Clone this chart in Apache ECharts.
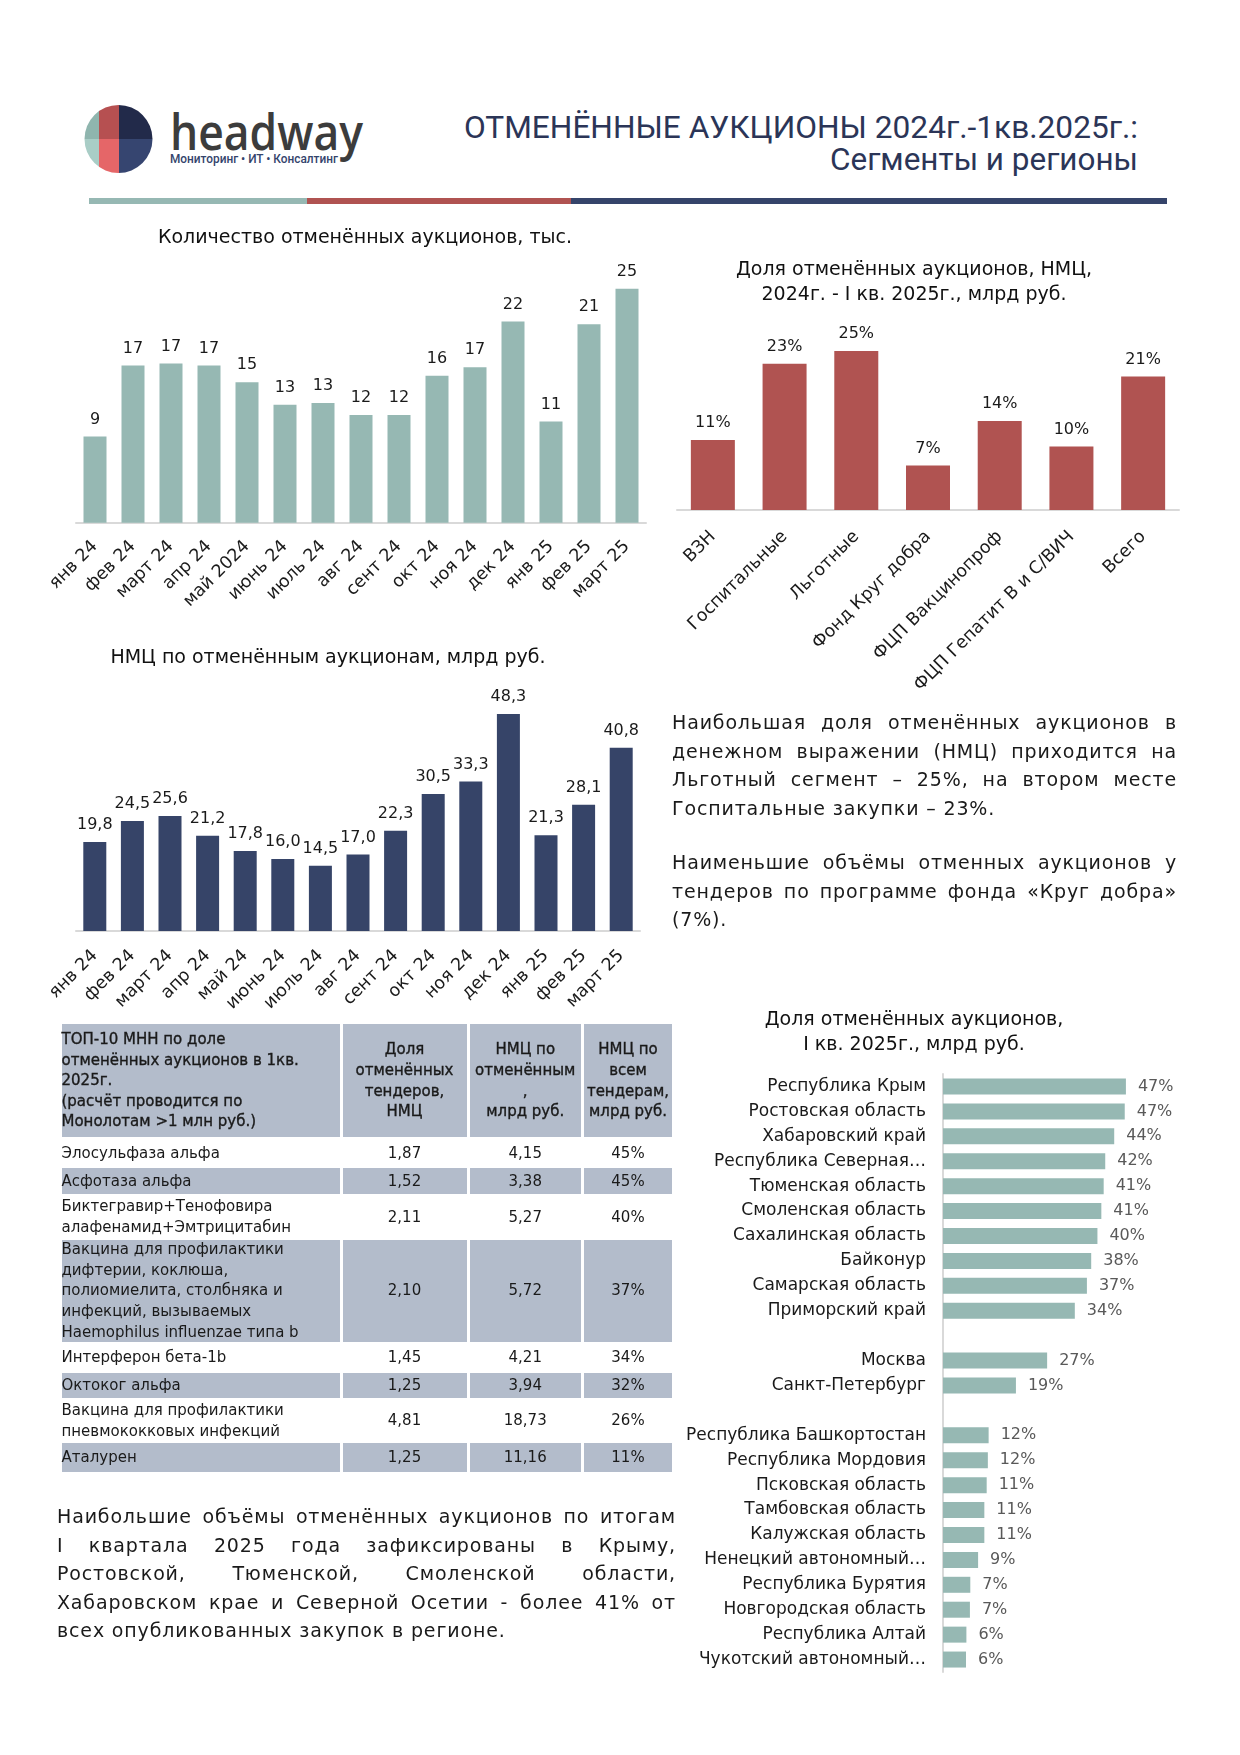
<!DOCTYPE html>
<html><head><meta charset="utf-8">
<script src="https://cdn.jsdelivr.net/npm/echarts@6/dist/echarts.min.js"></script>
<style>
html,body{margin:0;padding:0;background:#fff;}
#page{position:relative;width:1240px;height:1755px;overflow:hidden;background:#fff;font-family:"DejaVu Sans",sans-serif;color:#1a1a1a;}
#chart{position:absolute;left:0;top:0;width:1240px;height:1755px;}
.para{position:absolute;font-size:19px;line-height:28.5px;color:#1a1a1a;letter-spacing:0.85px;}
.para .ln{height:28.5px;white-space:nowrap;}
.cell{position:absolute;box-sizing:border-box;display:flex;align-items:center;font-size:15px;line-height:20.6px;white-space:nowrap;color:#1a1a1a;}
.cell.num{justify-content:center;text-align:center;}
.cell.hd{-webkit-text-stroke:0.35px #1a1a1a;}
.cell.gray{background:#b3bccb;}
</style></head>
<body>
<div id="page">
<svg id="hdr" width="1240" height="230" style="position:absolute;left:0;top:0">
<defs><clipPath id="lc"><circle cx="118.5" cy="139" r="34"/></clipPath></defs>
<g clip-path="url(#lc)">
 <rect x="84" y="104" width="15" height="35" fill="#8fb5ae"/>
 <rect x="84" y="139" width="15" height="35" fill="#a9cdc6"/>
 <rect x="99" y="104" width="20" height="35" fill="#b65051"/>
 <rect x="99" y="139" width="20" height="35" fill="#e56668"/>
 <rect x="119" y="104" width="34" height="35" fill="#222a4a"/>
 <rect x="119" y="139" width="34" height="35" fill="#364570"/>
</g>
<text x="170" y="150" font-family="Open Sans" font-weight="600" font-size="50" fill="#3c3c3c" textLength="193" lengthAdjust="spacingAndGlyphs">headway</text>
<text x="170" y="162.5" font-family="Roboto" font-weight="500" font-size="12.5" fill="#34446c" textLength="168" lengthAdjust="spacingAndGlyphs">Мониторинг • ИТ • Консалтинг</text>
<text x="1138" y="137.5" text-anchor="end" font-family="Roboto" font-size="31" fill="#2b3557" textLength="674" lengthAdjust="spacingAndGlyphs">ОТМЕНЁННЫЕ АУКЦИОНЫ 2024г.-1кв.2025г.:</text>
<text x="1138" y="170" text-anchor="end" font-family="Roboto" font-size="31" fill="#2b3557" textLength="308" lengthAdjust="spacingAndGlyphs">Сегменты и регионы</text>
<rect x="89" y="198" width="218" height="6" fill="#96b8b3"/>
<rect x="307" y="198" width="264" height="6" fill="#b05351"/>
<rect x="571" y="198" width="596" height="6" fill="#35446a"/>
</svg>
<div id="chart"></div>
<div id="p1" class="para" style="left:672px;top:708px;width:505px;"></div>
<div id="p2" class="para" style="left:672px;top:848px;width:505px;"></div>
<div id="p3" class="para" style="left:57px;top:1502px;width:619px;"></div>
<div id="tbl"></div>
</div>
<script>
// ---- data ----
const months1 = ['янв 24','фев 24','март 24','апр 24','май 2024','июнь 24','июль 24','авг 24','сент 24','окт 24','ноя 24','дек 24','янв 25','фев 25','март 25'];
const auctionsCount = [9.2,16.8,17.0,16.8,15.0,12.6,12.8,11.5,11.5,15.7,16.6,21.5,10.8,21.2,25.0];

const segments = ['ВЗН','Госпитальные','Льготные','Фонд Круг добра','ФЦП Вакцинопроф','ФЦП Гепатит В и С/ВИЧ','Всего'];
const segmentShare = [11,23,25,7,14,10,21];

const months2 = ['янв 24','фев 24','март 24','апр 24','май 24','июнь 24','июль 24','авг 24','сент 24','окт 24','ноя 24','дек 24','янв 25','фев 25','март 25'];
const nmcValues = [19.8,24.5,25.6,21.2,17.8,16.0,14.5,17.0,22.3,30.5,33.3,48.3,21.3,28.1,40.8];

const regions = ['Республика Крым','Ростовская область','Хабаровский край','Республика Северная…','Тюменская область','Смоленская область','Сахалинская область','Байконур','Самарская область','Приморский край',' ','Москва','Санкт-Петербург','  ','Республика Башкортостан','Республика Мордовия','Псковская область','Тамбовская область','Калужская область','Ненецкий автономный…','Республика Бурятия','Новгородская область','Республика Алтай','Чукотский автономный…'];
const regionShare = [46.9,46.6,43.9,41.6,41.2,40.6,39.6,38.0,36.9,33.8,null,26.7,18.7,null,11.7,11.5,11.2,10.6,10.6,9.0,7.0,6.9,6.0,5.9];

const chartTitles = ['Количество отменённых аукционов, тыс.', 'Доля отменённых аукционов, НМЦ,\n2024г. - I кв. 2025г., млрд руб.', 'НМЦ по отменённым аукционам, млрд руб.', 'Доля отменённых аукционов,\nI кв. 2025г., млрд руб.'];

const tableHeaders = ['ТОП-10 МНН по доле\nотменённых аукционов в 1кв.\n2025г.\n(расчёт проводится по\nМонолотам >1 млн руб.)', 'Доля\nотменённых\nтендеров,\nНМЦ', 'НМЦ по\nотменённым\n,\nмлрд руб.', 'НМЦ по\nвсем\nтендерам,\nмлрд руб.'];
const drugNames = ['Элосульфаза альфа','Асфотаза альфа','Биктегравир+Тенофовира\nалафенамид+Эмтрицитабин','Вакцина для профилактики\nдифтерии, коклюша,\nполиомиелита, столбняка и\nинфекций, вызываемых\nHaemophilus influenzae типа b','Интерферон бета-1b','Октоког альфа','Вакцина для профилактики\nпневмококковых инфекций','Аталурен'];
const drugCol2 = [1.87,1.52,2.11,2.10,1.45,1.25,4.81,1.25];
const drugCol3 = [4.15,3.38,5.27,5.72,4.21,3.94,18.73,11.16];
const drugCol4 = [45,45,40,37,34,32,26,11];

const para1 = ['Наибольшая доля отменённых аукционов в','денежном выражении (НМЦ) приходится на','Льготный сегмент – 25%, на втором месте','Госпитальные закупки – 23%.'];
const para2 = ['Наименьшие объёмы отменных аукционов у','тендеров по программе фонда «Круг добра»','(7%).'];
const para3 = ['Наибольшие объёмы отменённых аукционов по итогам','I квартала 2025 года зафиксированы в Крыму,','Ростовской, Тюменской, Смоленской области,','Хабаровском крае и Северной Осетии - более 41% от','всех опубликованных закупок в регионе.'];

// ---- paragraphs ----
function buildPara(id, lines){
  const el = document.getElementById(id);
  const W = el.clientWidth;
  lines.forEach((t,i)=>{
    const d = document.createElement('div'); d.className='ln';
    const s = document.createElement('span'); s.textContent = t;
    d.appendChild(s); el.appendChild(d);
    if (i < lines.length-1){
      const w = s.getBoundingClientRect().width;
      const n = (t.match(/ /g)||[]).length;
      if (n>0) s.style.wordSpacing = ((W-w)/n) + 'px';
    }
  });
}
buildPara('p1', para1); buildPara('p2', para2); buildPara('p3', para3);

// ---- table ----
(function(){
  const tbl = document.getElementById('tbl');
  const cols = [61.5, 341, 468, 582.5, 672];
  const rows = [[1024,1137],[1139,1167],[1168,1194],[1196,1238],[1239.5,1342],[1343,1372],[1373,1398],[1399,1442],[1443,1472]];
  function cell(ci, ri, text, cls){
    const d = document.createElement('div');
    d.className = 'cell ' + cls;
    const x0 = cols[ci] + (ci>0?1.5:0), x1 = cols[ci+1] - (ci<3?1.5:0);
    d.style.left = x0+'px'; d.style.width = (x1-x0)+'px';
    d.style.top = rows[ri][0]+'px'; d.style.height = (rows[ri][1]-rows[ri][0])+'px';
    const inner = document.createElement('div');
    inner.innerHTML = String(text).split('\n').map(s=>s.replace(/&/g,'&amp;').replace(/</g,'&lt;').replace(/>/g,'&gt;')).join('<br>');
    d.appendChild(inner); tbl.appendChild(d);
  }
  tableHeaders.forEach((h,ci)=>cell(ci,0,h,'gray hd'+(ci>0?' num':'')));
  const fmt = v => v.toFixed(2).replace('.',',');
  drugNames.forEach((n,i)=>{
    const g = (i%2===1)?'gray':'';
    cell(0,i+1,n,g);
    cell(1,i+1,fmt(drugCol2[i]),g+' num');
    cell(2,i+1,fmt(drugCol3[i]),g+' num');
    cell(3,i+1,drugCol4[i]+'%',g+' num');
  });
})();

// ---- charts ----
const FF = '"DejaVu Sans", sans-serif';
const TXT = '#1a1a1a';
const AXL = {show:true, lineStyle:{color:'#d9d9d9', width:2}};
function catX(gi, data, margin){
  return {type:'category', gridIndex:gi, data:data, axisLine:AXL, axisTick:{show:false},
    axisLabel:{interval:0, rotate:45, fontSize:17.5, fontFamily:FF, color:TXT, margin:margin}};
}
function titleText(x, y, t){
  return {type:'text', x:x, y:y, style:{text:t, fontSize:19, fontFamily:FF, fill:'#111', align:'center', verticalAlign:'middle', lineHeight:25}};
}
const chart = echarts.init(document.getElementById('chart'), null, {renderer:'canvas'});
chart.setOption({
  animation:false,
  backgroundColor:'transparent',
  graphic:[
    titleText(365, 238, chartTitles[0]),
    titleText(914, 282.5, chartTitles[1]),
    titleText(328, 658, chartTitles[2]),
    titleText(914, 1033, chartTitles[3])
  ],
  grid:[
    {left:76, top:288.7, width:570, height:234, containLabel:false, outerBoundsMode:'none'},
    {left:677, top:351, width:502, height:159, containLabel:false, outerBoundsMode:'none'},
    {left:76, top:714, width:564, height:217, containLabel:false, outerBoundsMode:'none'},
    {left:943, top:1074, width:234, height:598, containLabel:false, outerBoundsMode:'none'}
  ],
  xAxis:[
    catX(0, months1, 21),
    catX(1, segments, 24),
    catX(2, months2, 22),
    {type:'value', gridIndex:3, min:0, max:60, show:false}
  ],
  yAxis:[
    {type:'value', gridIndex:0, min:0, max:25, show:false},
    {type:'value', gridIndex:1, min:0, max:25, show:false},
    {type:'value', gridIndex:2, min:0, max:48.3, show:false},
    {type:'category', gridIndex:3, data:regions, inverse:true, axisLine:AXL, axisTick:{show:false},
      axisLabel:{interval:0, fontSize:17, fontFamily:FF, color:TXT, margin:17}}
  ],
  series:[
    {type:'bar', xAxisIndex:0, yAxisIndex:0, data:auctionsCount, barWidth:23,
      itemStyle:{color:'#96b8b3'},
      label:{show:true, position:'top', distance:9, fontSize:16, fontFamily:FF, color:TXT, formatter:p=>String(Math.round(p.value))}},
    {type:'bar', xAxisIndex:1, yAxisIndex:1, data:segmentShare, barWidth:44,
      itemStyle:{color:'#b05351'},
      label:{show:true, position:'top', distance:9, fontSize:16, fontFamily:FF, color:TXT, formatter:p=>p.value+'%'}},
    {type:'bar', xAxisIndex:2, yAxisIndex:2, data:nmcValues, barWidth:23,
      itemStyle:{color:'#364468'},
      label:{show:true, position:'top', distance:9, fontSize:16, fontFamily:FF, color:TXT, formatter:p=>p.value.toFixed(1).replace('.',',')}},
    {type:'bar', xAxisIndex:3, yAxisIndex:3, data:regionShare, barWidth:16,
      itemStyle:{color:'#96b8b3'},
      label:{show:true, position:'right', distance:12, fontSize:16, fontFamily:FF, color:'#595959', formatter:p=>p.value==null?'':Math.round(p.value)+'%'}}
  ]
});
</script>
</body></html>
